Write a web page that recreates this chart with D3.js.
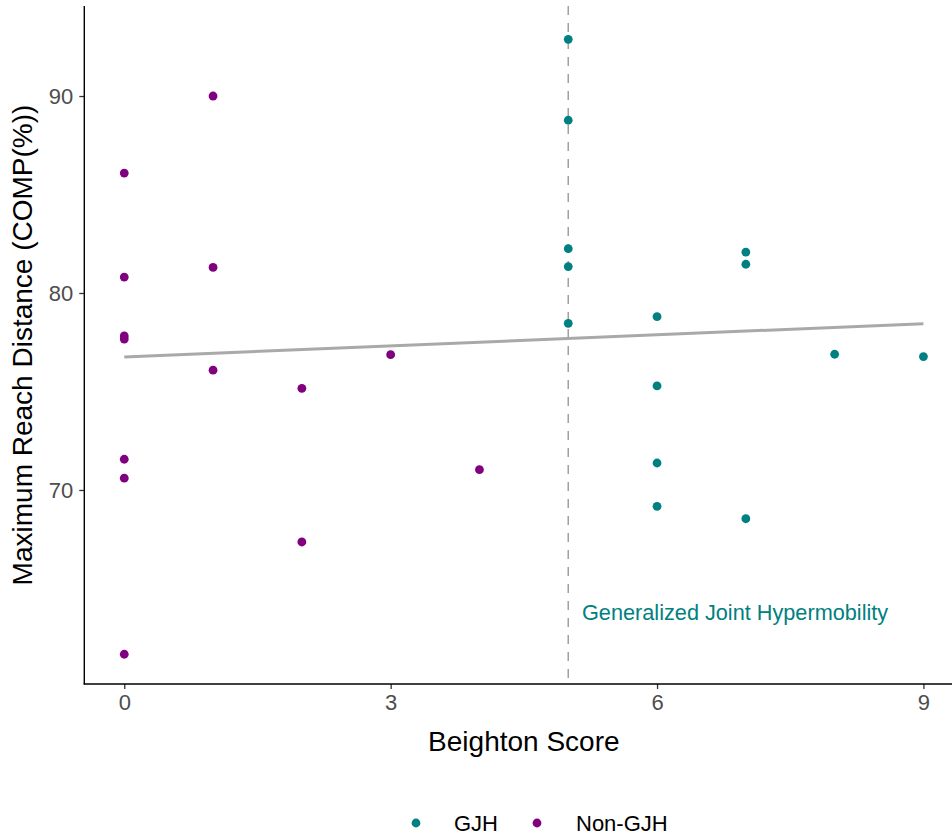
<!DOCTYPE html>
<html>
<head>
<meta charset="utf-8">
<script src="https://cdn.jsdelivr.net/npm/d3@7"></script>
<style>
  html, body { margin: 0; padding: 0; background: #fff; }
  svg { display: block; font-family: "Liberation Sans", Arial, sans-serif; }
</style>
</head>
<body>
<svg id="chart" width="952" height="836"></svg>
<script>
// Beighton score vs. maximum reach distance, grouped by hypermobility status
const groups = ["GJH", "Non-GJH"];
const groupColors = ["#008080", "#800080"];

const nonGjhScore = [0, 0, 0, 0, 0, 0, 0, 1, 1, 1, 2, 2, 3, 4];
const nonGjhReach = [86.09, 80.81, 77.82, 77.66, 71.56, 70.6, 61.66, 90.0, 81.3, 76.08, 75.16, 67.36, 76.87, 71.03];

const gjhScore = [5, 5, 5, 5, 5, 6, 6, 6, 6, 7, 7, 7, 8, 9];
const gjhReach = [92.88, 88.77, 82.25, 81.34, 78.46, 78.8, 75.28, 71.37, 69.17, 82.08, 81.46, 68.54, 76.89, 76.77];

const xTicks = [0, 3, 6, 9];
const yTicks = [70, 80, 90];
const cutoff = 5;
const cutoffLabel = "Generalized Joint Hypermobility";

const points = [
  ...gjhScore.map((s, i) => ({ x: s, y: gjhReach[i], g: "GJH" })),
  ...nonGjhScore.map((s, i) => ({ x: s, y: nonGjhReach[i], g: "Non-GJH" }))
];

const color = d3.scaleOrdinal().domain(groups).range(groupColors);

const panel = { left: 84.3, top: 6, bottom: 684 };
const x = d3.scaleLinear().domain([-0.45, 9.45]).range([panel.left, 963.4]);
const y = d3.scaleLinear().domain([60.15, 94.57]).range([panel.bottom, panel.top]);

const svg = d3.select("#chart");

// ordinary least squares fit over all points
const mx = d3.mean(points, d => d.x), my = d3.mean(points, d => d.y);
const slope = d3.sum(points, d => (d.x - mx) * (d.y - my)) / d3.sum(points, d => (d.x - mx) ** 2);
const intercept = my - slope * mx;
const xr = d3.extent(points, d => d.x);

// cutoff line
svg.append("line")
  .attr("x1", x(cutoff)).attr("x2", x(cutoff))
  .attr("y1", panel.top).attr("y2", panel.bottom)
  .attr("stroke", "#a0a0a0").attr("stroke-width", 1.5)
  .attr("stroke-dasharray", "9,8");

// regression line
svg.append("line")
  .attr("x1", x(xr[0])).attr("y1", y(intercept + slope * xr[0]))
  .attr("x2", x(xr[1])).attr("y2", y(intercept + slope * xr[1]))
  .attr("stroke", "#a9a9a9").attr("stroke-width", 3);

// points
svg.append("g").selectAll("circle").data(points).join("circle")
  .attr("cx", d => x(d.x)).attr("cy", d => y(d.y))
  .attr("r", 4.4).attr("fill", d => color(d.g));

// annotation
svg.append("text")
  .attr("x", 582).attr("y", 620)
  .attr("font-size", 21.7).attr("fill", "#008080")
  .text(cutoffLabel);

// axes
const xAxis = svg.append("g").attr("transform", `translate(0,${panel.bottom})`)
  .call(d3.axisBottom(x).tickValues(xTicks).tickFormat(d3.format("d")).tickSize(5).tickSizeOuter(0));
const yAxis = svg.append("g").attr("transform", `translate(${panel.left},0)`)
  .call(d3.axisLeft(y).tickValues(yTicks).tickFormat(d3.format("d")).tickSize(5).tickSizeOuter(0));

[xAxis, yAxis].forEach(a => {
  a.select(".domain").remove();
  a.selectAll(".tick line").attr("stroke", "#333333").attr("stroke-width", 1.3);
  a.selectAll(".tick text").attr("fill", "#4d4d4d").attr("font-size", 22)
    .attr("font-family", "Liberation Sans, Arial, sans-serif");
});
xAxis.selectAll(".tick text").attr("dy", "0.71em").attr("y", 10);
yAxis.selectAll(".tick text").attr("x", -11);

// axis lines
svg.append("line").attr("x1", panel.left).attr("x2", panel.left)
  .attr("y1", panel.top).attr("y2", panel.bottom + 0.6)
  .attr("stroke", "#000").attr("stroke-width", 1.4);
svg.append("line").attr("x1", panel.left - 0.6).attr("x2", 952)
  .attr("y1", panel.bottom).attr("y2", panel.bottom)
  .attr("stroke", "#000").attr("stroke-width", 1.4);

// axis titles
svg.append("text")
  .attr("x", x(4.5)).attr("y", 751)
  .attr("text-anchor", "middle").attr("font-size", 28).attr("fill", "#000")
  .text("Beighton Score");
svg.append("text")
  .attr("transform", `translate(32,${(panel.top + panel.bottom) / 2}) rotate(-90)`)
  .attr("text-anchor", "middle").attr("font-size", 28).attr("fill", "#000")
  .text("Maximum Reach Distance (COMP(%))");

// legend
const legendPos = [{ dot: 416, text: 454 }, { dot: 537, text: 576 }];
const legend = svg.append("g");
groups.forEach((g, i) => {
  legend.append("circle").attr("cx", legendPos[i].dot).attr("cy", 823)
    .attr("r", 4.4).attr("fill", color(g));
  legend.append("text").attr("x", legendPos[i].text).attr("y", 831)
    .attr("font-size", 22).attr("fill", "#000").text(g);
});
</script>
</body>
</html>
